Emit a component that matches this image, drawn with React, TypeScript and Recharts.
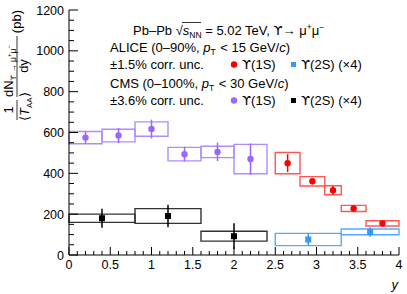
import React from 'react';
import { ComposedChart, XAxis, YAxis, Scatter, ErrorBar, ReferenceArea } from 'recharts';

const FONT = '"Liberation Sans", Arial, Helvetica, sans-serif';
const UPS = '"DejaVu Sans", sans-serif';

// CMS Υ(1S), 0-100%
const cms1sX = [0.2, 0.6, 1.0, 1.4, 1.8, 2.2];
const cms1sLo = [0, 0.4, 0.8, 1.2, 1.6, 2.0];
const cms1sHi = [0.4, 0.8, 1.2, 1.6, 2.0, 2.4];
const cms1sVal = [575, 585, 617, 494, 505, 470];
const cms1sStat = [30, 37, 46, 36, 45, 76];
const cms1sSys = [30, 31, 35, 33, 28, 72];

// CMS Υ(2S) x4
const cms2sX = [0.4, 1.2, 2.0];
const cms2sLo = [0, 0.8, 1.6];
const cms2sHi = [0.8, 1.6, 2.4];
const cms2sVal = [180, 191, 92];
const cms2sStat = [47, 55, 63];
const cms2sSys = [20, 36, 24];

// ALICE Υ(1S), 0-90%
const alice1sX = [2.65, 2.95, 3.2, 3.45, 3.8];
const alice1sLo = [2.5, 2.8, 3.1, 3.3, 3.6];
const alice1sHi = [2.8, 3.1, 3.3, 3.6, 4.0];
const alice1sVal = [450, 361, 317, 228, 155];
const alice1sStat = [44, 15, 21, 9, 14];
const alice1sSys = [52, 23, 22, 15, 13];

// ALICE Υ(2S) x4
const alice2sX = [2.9, 3.65];
const alice2sLo = [2.5, 3.3];
const alice2sHi = [3.3, 4.0];
const alice2sVal = [76, 113];
const alice2sStat = [31, 23];
const alice2sSys = [30, 14];

const xMajor = [0, 0.5, 1, 1.5, 2, 2.5, 3, 3.5, 4];
const yMajor = [0, 200, 400, 600, 800, 1000, 1200];
const xTicks = Array.from({ length: 41 }, (_, i) => i / 10);
const yTicks = Array.from({ length: 25 }, (_, i) => i * 50);

const isMajorX = (v: number) => xMajor.some((m) => Math.abs(m - v) < 1e-6);
const isMajorY = (v: number) => yMajor.includes(v);

const points = (xs: number[], vals: number[], errs: number[]) =>
  xs.map((x, i) => ({ x, y: vals[i], err: errs[i] }));

const boxes = (lo: number[], hi: number[], vals: number[], sys: number[], stroke: string, key: string) =>
  lo.map((l, i) => (
    <ReferenceArea
      key={`${key}-${i}`}
      xAxisId="b"
      yAxisId="l"
      x1={l}
      x2={hi[i]}
      y1={vals[i] - sys[i]}
      y2={vals[i] + sys[i]}
      fill="none"
      stroke={stroke}
      strokeWidth={1.4}
      ifOverflow="visible"
    />
  ));

const dot = (color: string) => (p: any) => <circle cx={p.cx} cy={p.cy} r={3.2} fill={color} />;
const square = (color: string) => (p: any) => (
  <rect x={p.cx - 3} y={p.cy - 3} width={6} height={6} fill={color} />
);

// ROOT-like ticks pointing into the frame
const LeftTick = (p: any) => {
  const v = p.payload.value;
  const major = isMajorY(v);
  const edge = p.x + 5;
  return (
    <g>
      <line x1={edge} x2={edge + (major ? 9 : 5)} y1={p.y} y2={p.y} stroke="#000" />
      {major && (
        <text x={p.x} y={p.y} dy="0.36em" textAnchor="end" fontSize={12.5} fontFamily={FONT} fill="#000">
          {v}
        </text>
      )}
    </g>
  );
};

const RightTick = (p: any) => {
  const major = isMajorY(p.payload.value);
  return <line x1={p.x} x2={p.x - (major ? 9 : 5)} y1={p.y} y2={p.y} stroke="#000" />;
};

const BottomTick = (p: any) => {
  const v = p.payload.value;
  const major = isMajorX(v);
  const edge = p.y - 5;
  return (
    <g>
      <line x1={p.x} x2={p.x} y1={edge} y2={edge - (major ? 8 : 4)} stroke="#000" />
      {major && (
        <text x={p.x} y={p.y} dy="0.75em" textAnchor="middle" fontSize={12.5} fontFamily={FONT} fill="#000">
          {v}
        </text>
      )}
    </g>
  );
};

const TopTick = (p: any) => {
  const major = isMajorX(p.payload.value);
  return <line x1={p.x} x2={p.x} y1={p.y} y2={p.y + (major ? 8 : 4)} stroke="#000" />;
};

const Ups = () => <tspan fontFamily={UPS}>ϒ</tspan>;

const Overlay = () => (
  <svg
    width={407}
    height={294}
    style={{ position: 'absolute', left: 0, top: 0, pointerEvents: 'none' }}
    fontFamily={FONT}
  >
    {/* y title */}
    <g transform="rotate(-90)" fontSize={13}>
      <text x={-10} y={21} textAnchor="end">(pb)</text>
      <line x1={-97} x2={-36} y1={17} y2={17} stroke="#000" strokeWidth={0.8} />
      <text x={-97} y={13}>
        dN
        <tspan fontSize={8.5} dy={3}>
          <tspan fontFamily={UPS} fontSize={7.5}>ϒ</tspan> → μ
        </tspan>
        <tspan fontSize={6} dy={-5}>+</tspan>
        <tspan fontSize={8.5} dy={5}>μ</tspan>
        <tspan fontSize={6} dy={-5}>−</tspan>
      </text>
      <text x={-66} y={28} textAnchor="middle">dy</text>
      <line x1={-120} x2={-100} y1={17} y2={17} stroke="#000" strokeWidth={0.8} />
      <text x={-110} y={13} textAnchor="middle">1</text>
      <text x={-121} y={29}>
        ⟨<tspan fontStyle="italic">T</tspan>
        <tspan fontSize={8} dy={3}>AA</tspan>
        <tspan dy={-3}>⟩</tspan>
      </text>
    </g>

    {/* legend */}
    <g fontSize={13}>
      <text x={133} y={35}>
        Pb–Pb √<tspan fontStyle="italic">s</tspan>
        <tspan fontSize={8.5} dy={3}>NN</tspan>
        <tspan dy={-3}> = 5.02 TeV, </tspan>
        <Ups />
        <tspan>→ μ</tspan>
        <tspan fontSize={8.5} dy={-5}>+</tspan>
        <tspan dy={5}>μ</tspan>
        <tspan fontSize={8.5} dy={-5}>−</tspan>
      </text>
      <line x1={182} x2={201} y1={22.5} y2={22.5} stroke="#000" strokeWidth={0.8} />
      <text x={110} y={52}>
        ALICE (0–90%, <tspan fontStyle="italic">p</tspan>
        <tspan fontSize={8.5} dy={3}>T</tspan>
        <tspan dy={-3} dx={1}>{' < 15 GeV/'}</tspan>
        <tspan fontStyle="italic">c</tspan>)
      </text>
      <text x={110} y={69}>±1.5% corr. unc.</text>
      <circle cx={234} cy={64.5} r={3.2} fill="#ff0000" />
      <text x={242} y={69}>
        <Ups />(1S)
      </text>
      <rect x={291} y={62} width={5} height={5} fill="#3399ff" />
      <text x={301} y={69}>
        <Ups />(2S) (×4)
      </text>

      <text x={110} y={88}>
        CMS (0–100%, <tspan fontStyle="italic">p</tspan>
        <tspan fontSize={8.5} dy={3}>T</tspan>
        <tspan dy={-3} dx={1}>{' < 30 GeV/'}</tspan>
        <tspan fontStyle="italic">c</tspan>)
      </text>
      <text x={110} y={105}>±3.6% corr. unc.</text>
      <circle cx={234} cy={100.5} r={3.2} fill="#9966ff" />
      <text x={242} y={105}>
        <Ups />(1S)
      </text>
      <rect x={291} y={98} width={5} height={5} fill="#000" />
      <text x={301} y={105}>
        <Ups />(2S) (×4)
      </text>
    </g>

    <text x={398} y={289} textAnchor="end" fontSize={13} fontStyle="italic">y</text>
  </svg>
);

export default function App() {
  return (
    <div style={{ position: 'absolute', left: 0, top: 0, width: 407, height: 294, background: '#fff' }}>
      <ComposedChart width={407} height={294} margin={{ top: 10, right: 8, left: 29, bottom: 9 }}>
        <XAxis
          xAxisId="b"
          dataKey="x"
          type="number"
          domain={[0, 4]}
          ticks={xTicks}
          interval={0}
          tickSize={0}
          tickMargin={5}
          tickLine={false}
          height={30}
          stroke="#000"
          tick={<BottomTick />}
        />
        <XAxis
          xAxisId="t"
          orientation="top"
          type="number"
          domain={[0, 4]}
          ticks={xTicks}
          interval={0}
          tickSize={0}
          tickMargin={0}
          tickLine={false}
          height={0}
          stroke="#000"
          tick={<TopTick />}
        />
        <YAxis
          yAxisId="l"
          type="number"
          domain={[0, 1200]}
          ticks={yTicks}
          interval={0}
          tickSize={0}
          tickMargin={5}
          tickLine={false}
          width={40}
          stroke="#000"
          tick={<LeftTick />}
        />
        <YAxis
          yAxisId="r"
          orientation="right"
          type="number"
          domain={[0, 1200]}
          ticks={yTicks}
          interval={0}
          tickSize={0}
          tickMargin={0}
          tickLine={false}
          width={0}
          stroke="#000"
          tick={<RightTick />}
        />

        {boxes(cms1sLo, cms1sHi, cms1sVal, cms1sSys, '#b08cff', 'c1')}
        {boxes(cms2sLo, cms2sHi, cms2sVal, cms2sSys, '#333333', 'c2')}
        {boxes(alice1sLo, alice1sHi, alice1sVal, alice1sSys, '#ff5555', 'a1')}
        {boxes(alice2sLo, alice2sHi, alice2sVal, alice2sSys, '#55aaff', 'a2')}

        <Scatter xAxisId="b" yAxisId="l" data={points(cms1sX, cms1sVal, cms1sStat)} dataKey="y" shape={dot('#9966ff')} isAnimationActive={false}>
          <ErrorBar dataKey="err" direction="y" width={0} stroke="#9966ff" strokeWidth={1.5} />
        </Scatter>
        <Scatter xAxisId="b" yAxisId="l" data={points(cms2sX, cms2sVal, cms2sStat)} dataKey="y" shape={square('#000')} isAnimationActive={false}>
          <ErrorBar dataKey="err" direction="y" width={0} stroke="#000" strokeWidth={1.5} />
        </Scatter>
        <Scatter xAxisId="b" yAxisId="l" data={points(alice1sX, alice1sVal, alice1sStat)} dataKey="y" shape={dot('#ff0000')} isAnimationActive={false}>
          <ErrorBar dataKey="err" direction="y" width={0} stroke="#ff0000" strokeWidth={1.5} />
        </Scatter>
        <Scatter xAxisId="b" yAxisId="l" data={points(alice2sX, alice2sVal, alice2sStat)} dataKey="y" shape={square('#3399ff')} isAnimationActive={false}>
          <ErrorBar dataKey="err" direction="y" width={0} stroke="#3399ff" strokeWidth={1.5} />
        </Scatter>
      </ComposedChart>
      <Overlay />
    </div>
  );
}
